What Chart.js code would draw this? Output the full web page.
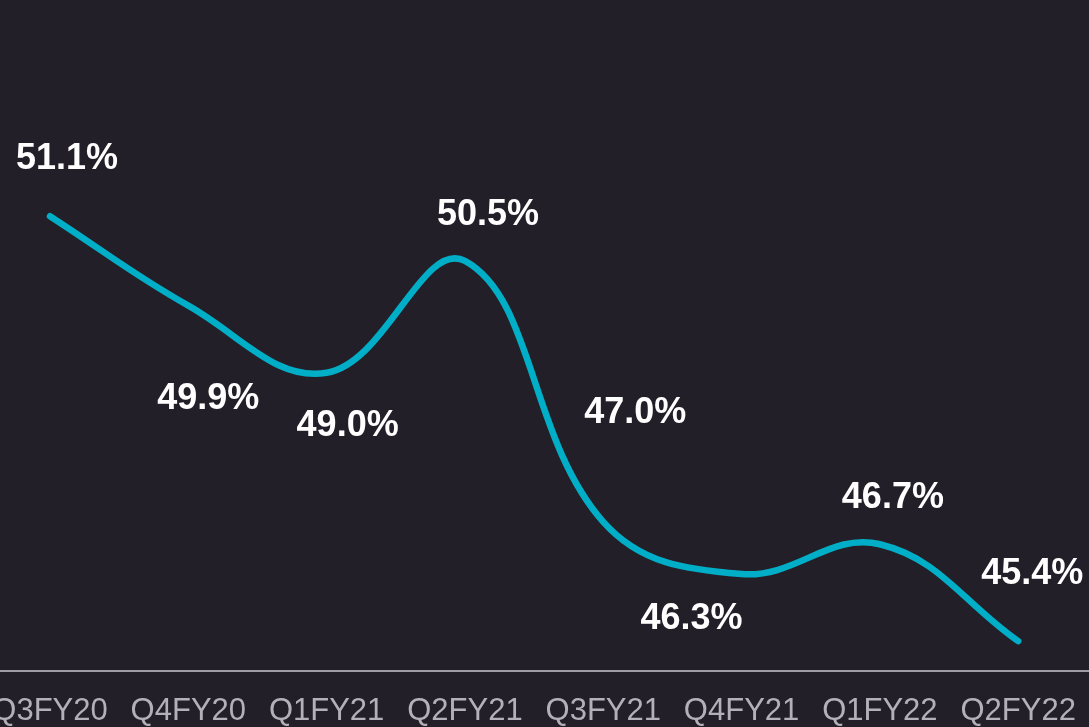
<!DOCTYPE html>
<html>
<head>
<meta charset="utf-8">
<script src="https://cdn.jsdelivr.net/npm/chart.js@4"></script>
<style>
    html, body { margin: 0; padding: 0; background: #231f28; }
    #wrap { width: 1089px; height: 727px; position: relative; }
</style>
</head>
<body>
<div id="wrap"><canvas id="chart"></canvas></div>
<script>
// Quarterly ratio data
const quarters = ['Q3FY20', 'Q4FY20', 'Q1FY21', 'Q2FY21', 'Q3FY21', 'Q4FY21', 'Q1FY22', 'Q2FY22'];
const ratioValues = [51.1, 49.9, 49.0, 50.5, 47.0, 46.3, 46.7, 45.4];
// label placement relative to each point (px)
const labelOffsets = [[17, -57], [20, 93], [21, 53], [23, -46], [32, -109], [-50, 45], [13, -46], [14, -67]];

// Draw value labels next to each point
const valueLabels = {
    id: 'valueLabels',
    afterDatasetsDraw(chart) {
        const ctx = chart.ctx;
        const meta = chart.getDatasetMeta(0);
        ctx.save();
        ctx.fillStyle = '#ffffff';
        ctx.font = 'bold 36px "Liberation Sans", Arial, sans-serif';
        ctx.textAlign = 'center';
        ctx.textBaseline = 'middle';
        meta.data.forEach((pt, i) => {
            const off = labelOffsets[i];
            ctx.fillText(ratioValues[i].toFixed(1) + '%', pt.x + off[0], pt.y + off[1]);
        });
        ctx.restore();
    }
};

new Chart(document.getElementById('chart'), {
    type: 'line',
    data: {
        datasets: [{
            data: ratioValues.map((v, i) => ({ x: i, y: v })),
            borderColor: '#00afc7',
            borderWidth: 6.5,
            borderCapStyle: 'round',
            tension: 0.4,
            pointRadius: 0,
            fill: false
        }]
    },
    options: {
        responsive: true,
        maintainAspectRatio: false,
        animation: false,
        layout: { padding: 0 },
        plugins: {
            legend: { display: false },
            tooltip: { enabled: false }
        },
        scales: {
            x: {
                type: 'linear',
                min: -0.3615,
                max: 7.512,
                afterBuildTicks: s => { s.ticks = quarters.map((q, i) => ({ value: i })); },
                afterFit: s => { s.paddingLeft = 0; s.paddingRight = 0; s.height = 56; },
                grid: { display: false, drawTicks: false },
                border: { display: true, color: '#a09ca6', width: 2 },
                ticks: {
                    autoSkip: false,
                    maxRotation: 0,
                    padding: 22,
                    color: '#b4b0b8',
                    font: { family: '"Liberation Sans", Arial, sans-serif', size: 31 },
                    callback: v => quarters[v]
                }
            },
            y: {
                display: false,
                min: 45,
                max: 54
            }
        }
    },
    plugins: [valueLabels]
});
</script>
</body>
</html>
